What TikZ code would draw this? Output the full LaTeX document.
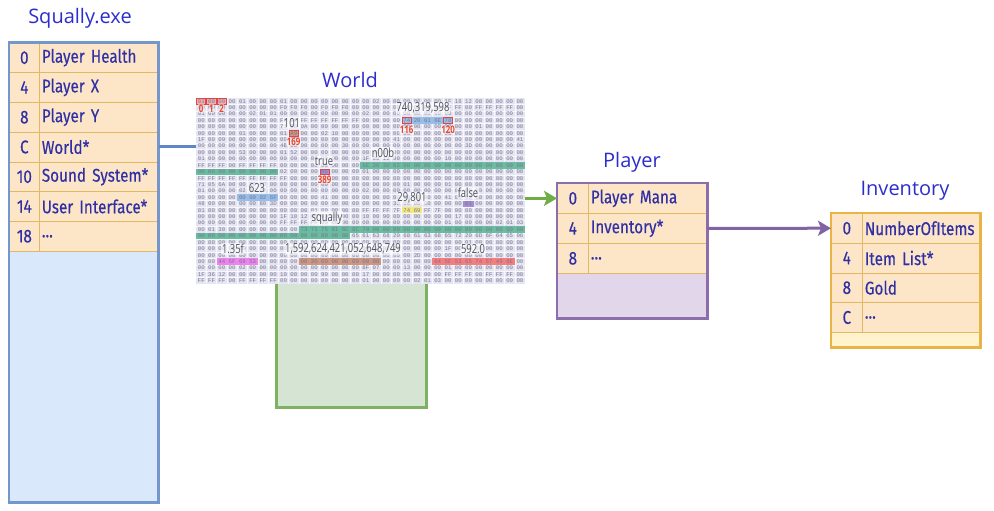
\documentclass[tikz,border=0pt]{standalone}
\usepackage{fontspec}
\setmainfont{Open Sans}
\newfontfamily\rowfont[FakeStretch=0.83,FakeBold=0.3]{Fira Sans}
\newfontfamily\lblfont[FakeStretch=0.75]{Open Sans}
\newfontfamily\hexfont{Liberation Mono}
\usetikzlibrary{arrows.meta}
\definecolor{titleblue}{RGB}{45,45,205}
\definecolor{rowtext}{RGB}{48,48,165}
\definecolor{peach}{RGB}{253,229,200}
\definecolor{rowline}{RGB}{225,185,100}
\definecolor{sqborder}{RGB}{115,150,205}
\definecolor{sqfill}{RGB}{218,232,252}
\definecolor{plborder}{RGB}{140,110,170}
\definecolor{plfill}{RGB}{226,215,234}
\definecolor{invborder}{RGB}{232,180,70}
\definecolor{invfill}{RGB}{255,243,206}
\definecolor{wborder}{RGB}{125,178,98}
\definecolor{wfill}{RGB}{214,229,211}
\definecolor{dumpbg}{RGB}{228,228,243}
\definecolor{hextext}{RGB}{118,118,140}
\definecolor{hlred}{RGB}{240,175,180}
\definecolor{hlredline}{RGB}{225,70,70}
\definecolor{hlblue}{RGB}{150,190,232}
\definecolor{hlgreen}{RGB}{105,188,160}
\definecolor{hlyellow}{RGB}{246,232,120}
\definecolor{hlpurple}{RGB}{165,140,215}
\definecolor{hlmagenta}{RGB}{238,130,238}
\definecolor{hlbrown}{RGB}{205,150,130}
\definecolor{hlsalmon}{RGB}{245,125,125}
\definecolor{lbltext}{RGB}{80,80,95}
\definecolor{lblred}{RGB}{235,70,45}
\definecolor{bluelink}{RGB}{95,135,200}
\definecolor{greenlink}{RGB}{112,173,71}
\definecolor{purplelink}{RGB}{130,100,165}
\newcommand\hlcells[4]{\fill[#4] ({196+10.28*#1},{98+6.414*#3}) rectangle ({196+10.28*(#2+1)},{98+6.414*(#3+1)});}
\newcommand\redcell[3]{\draw[hlredline, fill=#3, line width=0.8] ({196+10.28*#1+0.6},{98+6.414*#2+0.4}) rectangle ({196+10.28*(#1+1)-0.6},{98+6.414*(#2+1)-0.4});}
\newcommand\mydots{...}
\begin{document}
\begin{tikzpicture}[x=1pt,y=-1pt,
  title/.style={font=\fontsize{20}{22}\selectfont, text=titleblue, inner sep=0},
  idxcell/.style={draw=rowline, line width=0.7, fill=peach, anchor=north west, inner sep=0,
    minimum width=30, font=\rowfont\fontsize{18.4}{19}\selectfont, text=rowtext},
  namecell/.style={draw=rowline, line width=0.7, fill=peach, anchor=north west, inner xsep=2.5, inner ysep=0,
    align=left, font=\rowfont\fontsize{18.4}{19}\selectfont, text=rowtext},
  hexrow/.style={font=\hexfont\fontsize{5.71}{6}\selectfont, text=hextext, anchor=west, inner sep=0},
  lbl/.style={font=\lblfont\fontsize{12.5}{13}\selectfont, text=lbltext, fill=white, fill opacity=0.6,
    text opacity=1, inner sep=1pt, rounded corners=2pt},
  redlbl/.style={font=\lblfont\bfseries\fontsize{10.5}{11}\selectfont, text=lblred, inner sep=0.5pt,
    fill=white, fill opacity=0.5, text opacity=1},
  link/.style={line width=3},
  tip/.style={-{Stealth[length=13pt, width=15pt, inset=3pt]}}
]
\useasboundingbox (0,0) rectangle (994,511);
\fill[white] (0,0) rectangle (994,511);

% ---------- Squally.exe ----------
\node[title] (tsq) at (80,18) {Squally.exe};
\node[fill=sqfill, minimum width=149, minimum height=459.5, anchor=north west, inner sep=0] (sq) at (9,42.5) {};
\foreach \idx/\txt [count=\i from 0] in {0/Player Health, 4/Player X, 8/Player Y, C/World*,
    10/Sound System*, 14/User Interface*, 18/\mydots} {
  \node[idxcell, minimum height=29.75] (sqi\i) at (9,{42.5+29.75*\i}) {\idx};
  \node[namecell, text width=114, minimum height=29.75] (sq\i) at (39,{42.5+29.75*\i}) {\txt};
}
\draw[sqborder, line width=2.2] (sq.north west) rectangle (sq.south east);

% ---------- World ----------
\node[title] (tw) at (350,80) {World};
\node[draw=wborder, line width=2.5, fill=wfill, minimum width=150, minimum height=306,
  anchor=north west, inner sep=0] (wbox) at (275,100) {};
\node[fill=dumpbg, minimum width=329, minimum height=186, anchor=north west, inner sep=0, outer sep=0] (dump) at (196,98) {};
\foreach \j in {1,...,31} \draw[white, line width=0.35, opacity=0.7] ({196+10.28*\j},98) -- ++(0,186);
\foreach \j in {1,...,28} \draw[white, line width=0.35, opacity=0.7] (196,{98+6.414*\j}) -- ++(329,0);
% highlights
\hlcells{20}{24}{3}{hlblue}
\hlcells{16}{31}{10}{hlgreen}
\hlcells{0}{7}{11}{hlgreen}
\hlcells{4}{7}{15}{hlblue}
\hlcells{26}{26}{16}{hlpurple}
\hlcells{20}{21}{17}{hlyellow}
\hlcells{10}{31}{20}{hlgreen}
\hlcells{0}{14}{21}{hlgreen}
\hlcells{2}{5}{25}{hlmagenta}
\hlcells{10}{17}{25}{hlbrown}
\hlcells{23}{30}{25}{hlsalmon}
\redcell{0}{0}{hlred}
\redcell{1}{0}{hlred}
\redcell{2}{0}{hlred}
\redcell{20}{3}{hlblue}
\redcell{24}{3}{hlblue}
\redcell{9}{5}{hlbrown}
\redcell{12}{11}{hlpurple}
% hex rows
\foreach \t [count=\i from 0] in {
{01 00 00 00 01 00 00 00 01 00 00 00 00 00 00 00 00 02 00 00 00 00 00 00 1F 16 12 08 00 00 00 00},
{00 00 00 00 00 00 00 00 F0 F0 F0 00 F0 F0 F0 00 00 00 00 00 00 00 00 00 FF FF 00 FF FF FF FF 00},
{01 00 00 00 00 02 01 01 00 00 00 00 00 00 00 00 02 00 00 00 00 00 00 00 00 00 00 00 00 00 00 00},
{00 00 00 00 00 00 00 00 FF FF FF FF FF FF FF FF 00 00 00 00 74 20 61 6E 78 00 00 00 00 00 00 00},
{00 00 00 00 00 00 00 00 71 00 0A 00 00 00 00 00 00 00 00 00 00 00 00 00 00 00 00 01 00 00 00 00},
{00 00 00 00 01 00 00 00 01 A9 00 00 02 10 00 00 00 00 00 00 00 00 00 00 00 00 00 00 00 00 00 00},
{1F 00 09 00 00 00 00 00 00 00 00 00 00 00 00 00 00 00 00 41 00 00 00 00 00 00 00 00 00 00 00 41},
{00 00 00 00 00 00 00 00 4B 00 00 00 00 00 30 00 00 00 00 00 00 00 00 00 00 00 3D 00 00 00 00 00},
{00 00 00 00 53 00 00 00 01 52 00 00 00 00 00 00 00 00 02 00 00 00 00 00 00 00 00 00 00 00 00 00},
{01 00 00 00 00 00 00 00 00 00 00 00 00 00 00 00 1F 00 12 00 00 00 00 00 10 00 00 00 00 00 00 00},
{FF FF FF 00 FF FF FF FF 00 00 00 00 00 00 00 00 6E 30 30 62 00 00 00 00 00 00 00 00 00 00 00 00},
{00 00 00 00 00 00 00 00 02 00 00 00 85 00 00 00 01 00 00 00 00 00 00 00 00 00 00 00 00 00 00 00},
{FF FF FF FF FF FF FF FF FF 00 00 00 00 00 00 00 00 00 00 00 00 00 00 00 00 00 00 00 00 00 00 00},
{71 05 6A 00 00 00 00 00 00 00 00 00 00 00 00 00 00 00 00 00 01 00 00 00 01 00 00 00 00 00 00 00},
{01 00 00 00 02 6F 02 00 00 00 00 00 00 00 00 00 02 00 00 00 00 00 00 00 00 00 00 00 00 00 00 00},
{00 00 00 00 00 00 02 6F 00 00 00 00 41 00 00 00 00 00 00 00 00 00 00 00 41 00 00 00 00 00 00 00},
{48 00 00 00 00 00 80 3D 00 00 00 00 00 00 00 00 00 00 00 30 00 00 00 00 00 00 01 00 00 00 00 00},
{01 00 00 00 00 00 00 00 00 00 00 01 00 00 00 00 FF FF FF 7F 74 69 FF 7F 00 00 00 00 00 00 00 00},
{00 00 00 00 00 00 00 00 1F 10 12 00 00 00 00 00 10 00 90 00 00 00 00 00 00 17 00 00 00 00 00 00},
{00 00 00 00 00 00 00 00 FF FF FF FF 00 00 00 00 00 00 00 00 00 00 00 00 01 00 00 00 00 02 01 03},
{00 01 30 00 00 00 00 00 00 00 73 71 75 61 6C 6C 79 00 00 00 00 00 00 00 00 00 00 00 00 00 00 00},
{00 00 00 00 00 00 00 00 00 00 00 00 00 00 00 65 61 63 68 20 68 61 63 68 65 72 20 6D 6F 64 65 06},
{00 00 00 00 00 00 00 00 00 00 00 00 00 00 00 00 00 00 00 00 00 00 00 00 00 00 01 00 00 00 00 00},
{00 00 00 00 00 00 00 00 00 00 00 00 00 00 00 00 00 00 00 00 00 00 00 00 1F 00 00 00 00 00 00 00},
{00 00 00 00 00 00 00 00 00 00 00 00 00 00 00 00 00 00 00 00 00 2D 00 00 00 00 00 00 00 00 00 00},
{00 00 44 5F 69 53 00 00 00 00 00 30 00 00 00 00 00 00 00 00 00 00 00 64 5F 53 65 74 57 49 6E 00},
{00 00 00 00 02 00 00 00 00 00 00 00 00 00 00 00 8F 07 00 00 13 00 00 00 01 00 00 00 00 00 00 00},
{1F 36 12 00 00 00 00 00 10 00 00 00 90 00 00 00 17 00 00 00 00 00 00 00 FF FF FF 00 FF FF FF 00},
{FF FF FF 00 FF FF FF FF 00 00 00 00 00 00 00 00 01 00 00 00 00 02 01 03 00 00 00 00 00 00 00 00}} {
  \node[hexrow] (h\i) at (197.7,{101.207+6.414*\i}) {\t};
}
% value labels
\node[redlbl] (l0) at (201.1,108.5) {0};
\node[redlbl] (l1) at (211.4,108.5) {1};
\node[redlbl] (l2) at (221.7,108.5) {2};
\node[lbl] (l740) at (423,108) {740,319,598};
\node[redlbl] (l116) at (406.7,130) {116};
\node[redlbl] (l120) at (448,130) {120};
\node[lbl] (l101) at (292,123) {101};
\node[redlbl] (l169) at (293.5,142) {169};
\node[lbl] (lnoob) at (383,153) {n00b};
\node[lbl] (ltrue) at (324,161) {true};
\node[redlbl] (l389) at (324.5,180) {389};
\node[lbl] (l623) at (257,188) {623};
\node[lbl] (lfalse) at (468,193) {false};
\node[lbl] (l29801) at (412,198) {29,801};
\node[lbl] (lsq) at (327,218) {squally};
\node[lbl] (l135) at (233,249) {1.35f};
\node[lbl] (lbig) at (343,249) {1,592,624,421,052,648,749};
\node[lbl] (l592) at (473,249) {592.0};

% ---------- Player ----------
\node[title] (tpl) at (632,162) {Player};
\node[fill=plfill, minimum width=150, minimum height=135, anchor=north west, inner sep=0] (pl) at (557,183) {};
\foreach \idx/\txt [count=\i from 0] in {0/Player Mana, 4/Inventory*, 8/\mydots} {
  \node[idxcell, minimum width=31, minimum height=30] (pli\i) at (557,{183+30*\i}) {\idx};
  \node[namecell, text width=114, minimum height=30] (pl\i) at (588,{183+30*\i}) {\txt};
}
\draw[plborder, line width=2.2] (pl.north west) rectangle (pl.south east);

% ---------- Inventory ----------
\node[title] (tinv) at (905,191) {Inventory};
\node[fill=invfill, minimum width=149, minimum height=134, anchor=north west, inner sep=0] (inv) at (831,213) {};
\foreach \idx/\txt [count=\i from 0] in {0/NumberOfItems, 4/Item List*, 8/Gold, C/\mydots} {
  \node[idxcell, minimum width=31, minimum height=29.75] (invi\i) at (831,{213+29.75*\i}) {\idx};
  \node[namecell, text width=113, minimum height=29.75] (inv\i) at (862,{213+29.75*\i}) {\txt};
}
\draw[invborder, line width=2.5] (inv.north west) rectangle (inv.south east);

% ---------- connectors ----------
\draw[bluelink, link] (sq3.east) -- (sq3.east -| dump.west);
\draw[greenlink, link, tip] (pli0.west -| dump.east) -- (pli0.west);
\draw[purplelink, link, tip] (pl1.east) -- (invi0.west);
\end{tikzpicture}
\end{document}
